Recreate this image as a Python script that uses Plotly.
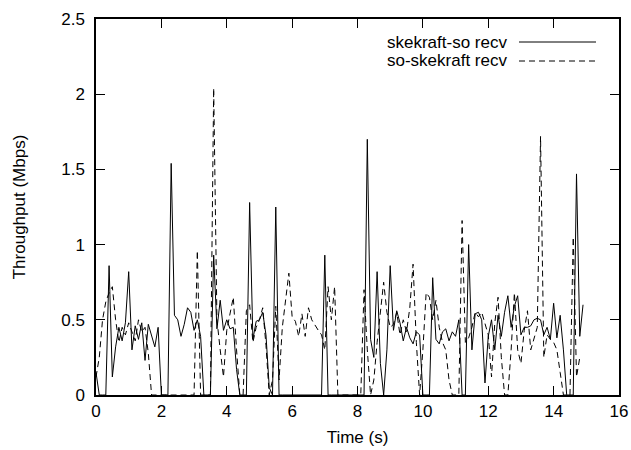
import numpy as np
import plotly.graph_objects as go

# time axis (s), 0.1 s sampling
t_solid = [round(0.1 * k, 1) for k in range(150)]
t_dashed = [round(0.1 * k, 1) for k in range(149)]

# skekraft-so recv (Mbps)
solid = [
    0.15, 0.0, 0.0, 0.0, 0.86, 0.12, 0.32, 0.45, 0.36, 0.48,
    0.82, 0.30, 0.46, 0.37, 0.48, 0.23, 0.47, 0.40, 0.32, 0.45,
    0.0, 0.0, 0.0, 1.54, 0.53, 0.50, 0.39, 0.47, 0.58, 0.55,
    0.43, 0.50, 0.39, 0.0, 0.0, 0.0, 0.93, 0.44, 0.63, 0.43,
    0.50, 0.44, 0.45, 0.17, 0.0, 0.0, 0.0, 1.28, 0.37, 0.49,
    0.50, 0.55, 0.40, 0.05, 0.0, 1.25, 0.0, 0.0, 0.0, 0.0,
    0.0, 0.0, 0.0, 0.0, 0.0, 0.0, 0.0, 0.0, 0.0, 0.0,
    0.93, 0.0, 0.0, 0.0, 0.0, 0.0, 0.0, 0.0, 0.0, 0.0,
    0.0, 0.0, 0.0, 1.70, 0.37, 0.25, 0.82, 0.21, 0.0, 0.30,
    0.86, 0.43, 0.56, 0.48, 0.36, 0.45, 0.38, 0.34, 0.42, 0.40,
    0.0, 0.0, 0.0, 0.78, 0.37, 0.34, 0.42, 0.44, 0.36, 0.42,
    0.39, 0.50, 0.0, 0.0, 1.00, 0.30, 0.54, 0.55, 0.50, 0.08,
    0.39, 0.50, 0.30, 0.53, 0.39, 0.55, 0.66, 0.45, 0.59, 0.66,
    0.40, 0.45, 0.45, 0.46, 0.50, 0.51, 0.50, 0.40, 0.45, 0.37,
    0.61, 0.38, 0.53, 0.30, 0.0, 0.0, 0.0, 1.47, 0.39, 0.60,
]

# so-skekraft recv (Mbps)
dashed = [
    0.12, 0.25, 0.50, 0.62, 0.68, 0.72, 0.50, 0.35, 0.45, 0.40,
    0.48, 0.42, 0.36, 0.50, 0.42, 0.45, 0.28, 0.0, 0.0, 0.0,
    0.0, 0.0, 0.0, 0.0, 0.0, 0.0, 0.0, 0.0, 0.0, 0.0,
    0.0, 0.96, 0.0, 0.0, 0.0, 0.0, 2.04, 0.50, 0.30, 0.12,
    0.43, 0.55, 0.65, 0.30, 0.0, 0.0, 0.56, 0.60, 0.35, 0.45,
    0.50, 0.58, 0.33, 0.0, 0.10, 0.59, 0.10, 0.45, 0.65, 0.81,
    0.52, 0.49, 0.39, 0.54, 0.39, 0.58, 0.50, 0.46, 0.43, 0.40,
    0.30, 0.72, 0.50, 0.72, 0.0, 0.0, 0.0, 0.0, 0.0, 0.0,
    0.0, 0.0, 0.70, 0.30, 0.0, 0.10, 0.35, 0.55, 0.75, 0.55,
    0.45, 0.47, 0.55, 0.40, 0.50, 0.42, 0.58, 0.87, 0.35, 0.0,
    0.30, 0.68, 0.65, 0.50, 0.63, 0.45, 0.35, 0.30, 0.10, 0.0,
    0.0, 0.0, 1.16, 0.35, 0.38, 0.45, 0.55, 0.52, 0.55, 0.48,
    0.40, 0.12, 0.48, 0.65, 0.25, 0.0, 0.0, 0.30, 0.68, 0.30,
    0.21, 0.43, 0.56, 0.30, 0.37, 0.45, 1.72, 0.25, 0.40, 0.37,
    0.35, 0.30, 0.15, 0.0, 0.0, 0.0, 1.05, 0.12, 0.25,
]

series_names = ["skekraft-so recv", "so-skekraft recv"]
x_ticks = list(range(0, 17, 2))
y_ticks = [0, 0.5, 1, 1.5, 2, 2.5]
y_tick_text = ["0", "0.5", "1", "1.5", "2", "2.5"]

FONT = "Liberation Sans, Arial, Helvetica, sans-serif"
FS = 17

fig = go.Figure()
fig.add_trace(go.Scatter(x=t_solid, y=solid, mode="lines", name=series_names[0],
                         line=dict(color="black", width=1), showlegend=False))
fig.add_trace(go.Scatter(x=t_dashed, y=dashed, mode="lines", name=series_names[1],
                         line=dict(color="black", width=1, dash="6px,4px"), showlegend=False))

L, R, T, B = 96, 12, 19, 55
W, H = 631, 450
pw = W - L - R
ph = H - T - B

def px(xp):
    return (xp - L) / pw

def py(yp):
    return (H - B - yp) / ph

# manual gnuplot-style legend (text, then sample line)
for i, (name, dash) in enumerate(zip(series_names, ["solid", "6px,4px"])):
    yy = py(42 + 19 * i)
    fig.add_annotation(x=px(509), y=yy, xref="paper", yref="paper", text=name,
                       showarrow=False, xanchor="right", yanchor="middle",
                       font=dict(family=FONT, size=FS, color="black"))
    fig.add_shape(type="line", xref="paper", yref="paper",
                  x0=px(519), x1=px(596), y0=yy, y1=yy,
                  line=dict(color="black", width=1, dash=dash))

axis_common = dict(showline=True, linecolor="black", linewidth=1.5, mirror="ticks",
                   ticks="inside", ticklen=9, tickwidth=1, tickcolor="black",
                   showgrid=False, zeroline=False,
                   tickfont=dict(family=FONT, size=FS, color="black"))

fig.update_xaxes(range=[0, 16], tickvals=x_ticks, ticktext=[str(v) for v in x_ticks],
                 title=dict(text="Time (s)", font=dict(family=FONT, size=FS, color="black"), standoff=11),
                 **axis_common)
fig.update_yaxes(range=[0, 2.5], tickvals=y_ticks, ticktext=y_tick_text,
                 title=dict(text="Throughput (Mbps)", font=dict(family=FONT, size=FS, color="black"), standoff=31),
                 ticklabelstandoff=6,
                 **axis_common)

fig.update_layout(width=W, height=H, margin=dict(l=L, r=R, t=T, b=B, autoexpand=False),
                  plot_bgcolor="white", paper_bgcolor="white",
                  font=dict(family=FONT, size=FS, color="black"))

fig.write_html("out.html", config={"displayModeBar": False})
